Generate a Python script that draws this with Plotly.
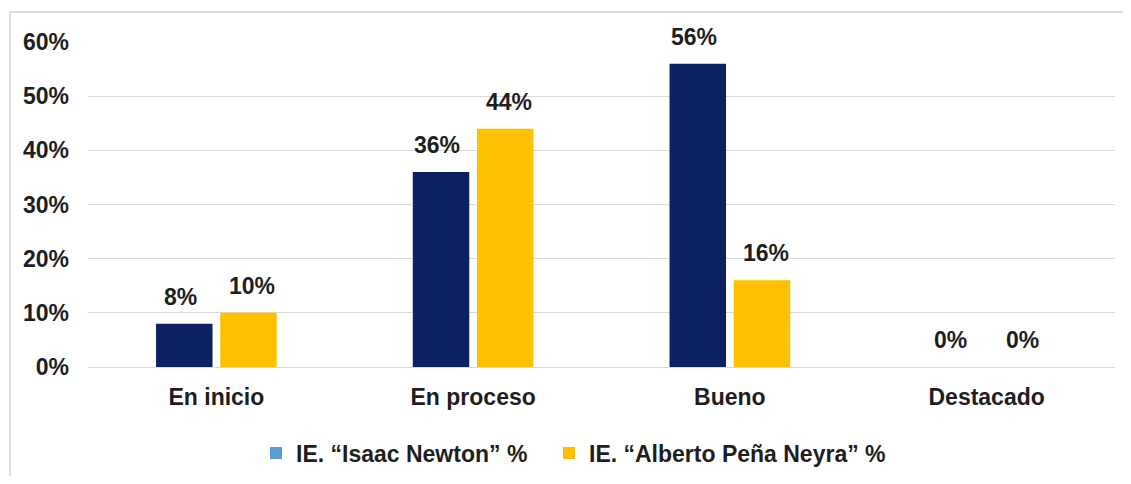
import plotly.graph_objects as go

categories = ["En inicio", "En proceso", "Bueno", "Destacado"]
newton = [0.08, 0.36, 0.56, 0.0]
pena = [0.10, 0.44, 0.16, 0.0]
series_names = ["IE. “Isaac Newton” %", "IE. “Alberto Peña Neyra” %"]
tick_vals = [0, 0.1, 0.2, 0.3, 0.4, 0.5, 0.6]
tick_text = ["0%", "10%", "20%", "30%", "40%", "50%", "60%"]

NAVY = "#0C2160"
YELLOW = "#FFC000"
LEGEND_BLUE = "#5B9BD5"
FONT = "Liberation Sans, Arial, sans-serif"
TXT = "#1E1E1E"
FS = 23


def f(size=FS):
    return dict(family=FONT, size=size, color=TXT, weight="bold")


fig = go.Figure()
fig.add_trace(go.Bar(x=categories, y=newton, marker_color=NAVY, marker_line_width=0,
                     showlegend=False, name=series_names[0]))
fig.add_trace(go.Bar(x=categories, y=pena, marker_color=YELLOW, marker_line_width=0,
                     showlegend=False, name=series_names[1]))
for nm, col, lg in zip(series_names, [LEGEND_BLUE, YELLOW], ["legend", "legend2"]):
    fig.add_trace(go.Scatter(x=[None], y=[None], mode="markers", name=nm, legend=lg,
                             marker=dict(symbol="square", size=11, color=col)))

for vals, shift in [(newton, -36), (pena, 36)]:
    for c, v in zip(categories, vals):
        fig.add_annotation(x=c, y=v, text=f"{round(v*100)}%", showarrow=False,
                           xshift=shift, yshift=12, yanchor="bottom", font=f())

L, T, W, H = 80, 34, 1115, 468
B = 109
PH = H - T - B
PW = W - L - 8

leg_common = dict(orientation="h", yanchor="middle", y=-(453 - 8 - (H - B)) / PH,
                  xanchor="left", font=f(), itemsizing="constant", bgcolor="rgba(0,0,0,0)")

fig.update_layout(
    width=W, height=H,
    margin=dict(l=L, r=8, t=T, b=B, autoexpand=False),
    paper_bgcolor="white", plot_bgcolor="white",
    barmode="group", bargap=0.5, bargroupgap=0.12,
    font=f(),
    showlegend=True,
    legend=dict(x=(256 - 8 - L) / PW, **leg_common),
    legend2=dict(x=(549 - 8 - L) / PW, **leg_common),
    xaxis=dict(showgrid=False, showline=False, ticks="", ticklabelstandoff=14, tickfont=f()),
    yaxis=dict(range=[0, 0.6], tickvals=tick_vals, ticktext=tick_text,
               showgrid=True, gridcolor="#D9D9D9", gridwidth=1,
               zeroline=True, zerolinecolor="#D9D9D9", zerolinewidth=1,
               showline=False, ticks="", ticklabelstandoff=18, tickfont=f()),
)

# outer chart border (top and left edges visible)
bx = (10 - 8 - L) / PW
by = 1 + (34 - 4) / PH
fig.add_shape(type="line", xref="paper", yref="paper", x0=bx, x1=(W - L) / PW, y0=by, y1=by,
              line=dict(color="#D0D0D0", width=1.5))
fig.add_shape(type="line", xref="paper", yref="paper", x0=bx, x1=bx, y0=by, y1=-B / PH,
              line=dict(color="#D0D0D0", width=1.5))

fig.write_html("out.html")
